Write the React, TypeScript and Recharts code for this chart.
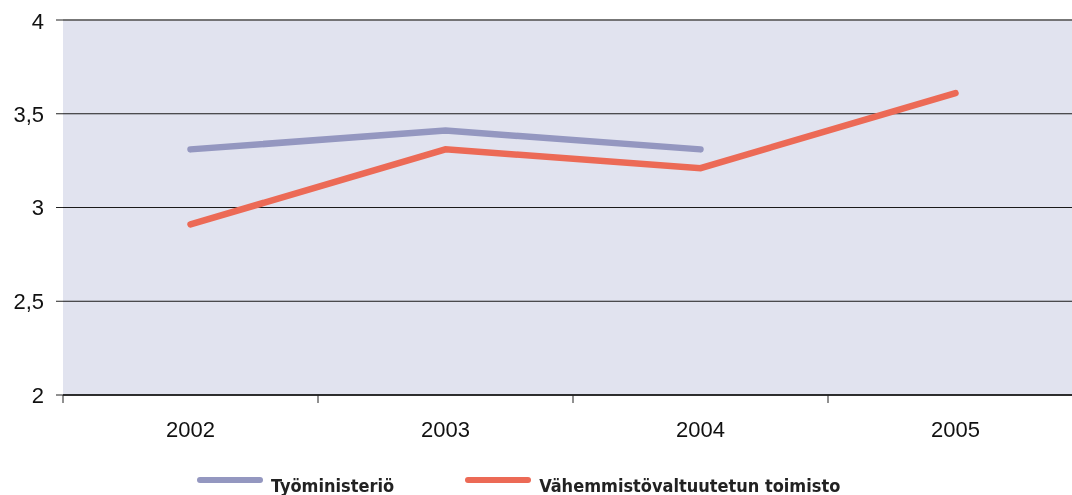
import React from "react";
import { LineChart, Line, XAxis, YAxis, CartesianGrid, Legend, ReferenceLine } from "recharts";

const years = [2002, 2003, 2004, 2005];
const tyoministerio = [3.31, 3.41, 3.31, null];
const vahemmisto = [2.91, 3.31, 3.21, 3.61];
const yTicks = [2, 2.5, 3, 3.5, 4];

const seriesNames = ["Työministeriö", "Vähemmistövaltuutetun toimisto"];
const seriesColors = ["#9497c0", "#ec6a56"];

const data = years.map((year, i) => ({
    year,
    tyo: tyoministerio[i],
    vah: vahemmisto[i],
}));

// tick marks sit on the boundaries between years, labels at the year itself
const edgeTicks = [...years.map((y) => y - 0.5), years[years.length - 1] + 0.5];
const xTicks = [...edgeTicks, ...years].sort((a, b) => a - b);

const XTick = (props: any) => {
    const { x, y, payload } = props;
    const v = payload.value as number;
    if (Number.isInteger(v)) {
        return (
            <text x={x} y={y + 42} textAnchor="middle" fontSize={22} fill="#111" fontFamily="Liberation Sans, Arial, sans-serif">
                {String(v)}
            </text>
        );
    }
    return <line x1={x} x2={x} y1={y} y2={y + 8} stroke="#222" strokeWidth={1} />;
};

const LegendContent = () => (
    <div style={{ display: "flex", alignItems: "flex-start", height: 38, paddingLeft: 189, boxSizing: "border-box" }}>
        {seriesNames.map((name, i) => (
            <div key={name} style={{ display: "flex", alignItems: "flex-start", marginRight: 71 }}>
                <div style={{ width: 66, height: 6, borderRadius: 3, background: seriesColors[i], marginTop: 20, marginRight: 8 }} />
                <span
                    style={{
                        fontFamily: "DejaVu Sans Condensed, DejaVu Sans, sans-serif",
                        fontWeight: "bold",
                        fontSize: 18,
                        lineHeight: "18px",
                        marginTop: 20,
                        color: "#222",
                        whiteSpace: "nowrap",
                    }}
                >
                    {name}
                </span>
            </div>
        ))}
    </div>
);

export default function App() {
    // fixed so the overflowing plot edge does not add scrollbars to the page
    return (
        <div style={{ position: "fixed", top: 8, left: 8, width: 1064, height: 487, overflow: "hidden" }}>
            <LineChart width={1075} height={487} data={data} margin={{ top: 12, right: 0, left: 0, bottom: 0 }}>
                <CartesianGrid vertical={false} stroke="#1a1a1a" fill="#e1e3ef" />
                <XAxis
                    dataKey="year"
                    type="number"
                    domain={[edgeTicks[0], edgeTicks[edgeTicks.length - 1]]}
                    ticks={xTicks}
                    interval={0}
                    tick={<XTick />}
                    tickLine={false}
                    tickSize={0}
                    tickMargin={0}
                    height={62}
                    axisLine={{ stroke: "#111", strokeWidth: 1.5 }}
                />
                <YAxis
                    domain={[2, 4]}
                    ticks={yTicks}
                    width={55}
                    axisLine={false}
                    tickSize={7}
                    tickMargin={12}
                    tickLine={{ stroke: "#222" }}
                    tick={{ fontSize: 22, fill: "#111", fontFamily: "Liberation Sans, Arial, sans-serif" }}
                    tickFormatter={(v: number) => String(v).replace(".", ",")}
                />
                <ReferenceLine y={4} stroke="#707070" strokeWidth={1.5} />
                <Legend verticalAlign="bottom" height={38} content={<LegendContent />} wrapperStyle={{ left: 0, width: 1075 }} />
                <Line dataKey="tyo" name={seriesNames[0]} stroke={seriesColors[0]} strokeWidth={6.5} strokeLinecap="round" dot={false} isAnimationActive={false} />
                <Line dataKey="vah" name={seriesNames[1]} stroke={seriesColors[1]} strokeWidth={6.5} strokeLinecap="round" dot={false} isAnimationActive={false} />
            </LineChart>
        </div>
    );
}
